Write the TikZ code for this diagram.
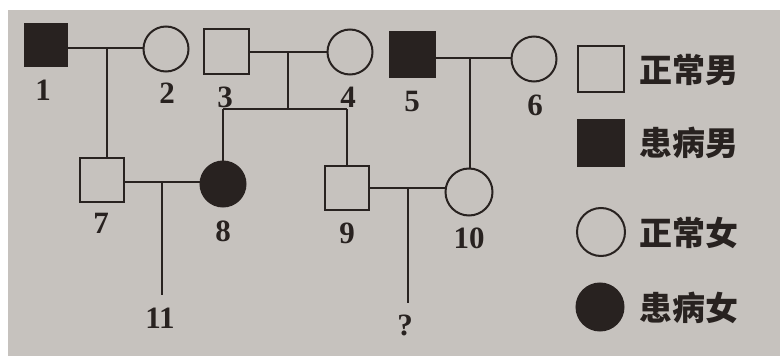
\documentclass[tikz,border=0pt]{standalone}
\usepackage{fontspec}
\setmainfont{Liberation Serif}
\newfontfamily\cjkfont{Noto Sans CJK SC}
\definecolor{paper}{RGB}{198,194,190}
\definecolor{ink}{RGB}{40,34,32}
\begin{document}
\begin{tikzpicture}[x=1pt,y=-1pt,
  every node/.style={inner sep=0pt,outer sep=0pt},
  male/.style={draw=ink,line width=2pt,rectangle,minimum size=44pt},
  female/.style={draw=ink,line width=2pt,circle,minimum size=45pt},
  ill/.style={fill=ink},
  num/.style={text=ink,font=\fontsize{31}{31}\selectfont\bfseries},
  legtext/.style={text=ink,anchor=west,font=\cjkfont\fontsize{33}{33}\selectfont\bfseries},
  link/.style={draw=ink,line width=1.5pt}]
\useasboundingbox (0,0) rectangle (780,356);
\fill[white] (0,0) rectangle (780,356);
\fill[paper] (8,10) rectangle (780,356);

% first generation
\node[male,ill,minimum size=42pt] (n1) at (46,45) {};
\node[female] (n2) at (166,49) {};
\node[male,minimum size=45pt] (n3) at (226,51) {};
\node[female] (n4) at (350,52) {};
\node[male,ill,minimum size=45pt] (n5) at (412,54) {};
\node[female] (n6) at (534,59) {};

% second generation
\node[male] (n7) at (102,180) {};
\node[female,ill] (n8) at (223,184) {};
\node[male] (n9) at (347,188) {};
\node[female,minimum size=47pt] (n10) at (469,192) {};

% marriage and descent lines
\coordinate (m12) at (107,48);
\coordinate (m34) at (288,52);
\coordinate (s34) at (288,109);
\coordinate (m56) at (470,58);
\coordinate (m78) at (162,182);
\coordinate (c11) at (162,295);
\coordinate (m910) at (408,188);
\coordinate (cq) at (408,303);

\draw[link] (n1.east |- m12) -- (n2.west |- m12);
\draw[link] (m12) -- (m12 |- n7.north);
\draw[link] (n3.east |- m34) -- (n4.west |- m34);
\draw[link] (m34) -- (s34);
\draw[link] (n8 |- s34) -- (n9 |- s34);
\draw[link] (n8 |- s34) -- (n8.north);
\draw[link] (n9 |- s34) -- (n9.north);
\draw[link] (n5.east |- m56) -- (n6.west |- m56);
\draw[link] (m56) -- (m56 |- n10.north);
\draw[link] (n7.east |- m78) -- (n8.west |- m78);
\draw[link] (m78) -- (c11);
\draw[link] (n9.east |- m910) -- (n10.west |- m910);
\draw[link] (m910) -- (cq);

% individual numbers
\node[num] (l1) at (43,90) {1};
\node[num] (l2) at (167,93) {2};
\node[num] (l3) at (225,97) {3};
\node[num] (l4) at (348,97) {4};
\node[num] (l5) at (412,102) {5};
\node[num] (l6) at (535,105) {6};
\node[num] (l7) at (101,223) {7};
\node[num] (l8) at (223,231) {8};
\node[num] (l9) at (347,233) {9};
\node[num] (l10) at (469,238) {10};
\node[num] (l11) at (160,318) {11};
\node[num] (lq) at (405,325) {?};

% legend
\node[male,minimum size=46pt] (k1) at (601,69) {};
\node[male,ill,minimum size=46pt] (k2) at (601,143) {};
\node[female,minimum size=48pt] (k3) at (601,232) {};
\node[female,ill,minimum size=47pt] (k4) at (600,307) {};
\node[legtext] (t1) at (639,70) {正常男};
\node[legtext] (t2) at (639,143) {患病男};
\node[legtext] (t3) at (639,233) {正常女};
\node[legtext] (t4) at (639,308) {患病女};
\end{tikzpicture}
\end{document}
